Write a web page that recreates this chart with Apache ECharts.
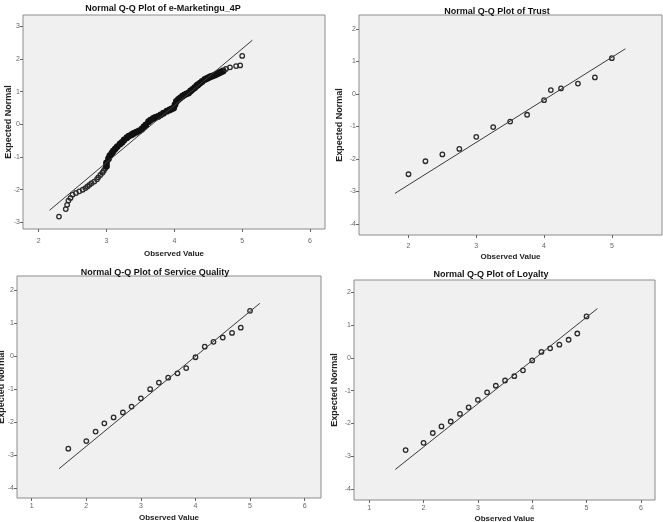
<!DOCTYPE html>
<html>
<head>
	<meta charset="utf-8">
	<title>Normal Q-Q Plots</title>
	<script src="https://cdn.jsdelivr.net/npm/echarts@6/dist/echarts.min.js"></script>
	<style>
		html, body { margin: 0; padding: 0; background: #fff; }
	</style>
</head>
<body>
	<div id="main" style="width: 663px; height: 522px"></div>
	<script type="text/javascript">
		// panel titles
		var titles = [
			'Normal Q-Q Plot of e-Marketingu_4P',
			'Normal Q-Q Plot of Trust',
			'Normal Q-Q Plot of Service Quality',
			'Normal Q-Q Plot of Loyalty'
		];

		// e-Marketingu_4P: observed value, expected normal
		var p1x = [2.30, 2.40, 2.42, 2.44, 2.47, 2.50, 2.55, 2.60, 2.65, 2.69, 2.72, 2.75, 2.78, 2.82, 2.86, 2.88, 2.91, 2.94, 2.96, 2.98,
			3.00, 3.00, 3.03, 3.05, 3.08, 3.10, 3.13, 3.16, 3.20, 3.23, 3.26, 3.30, 3.33, 3.37, 3.40, 3.44, 3.48, 3.52, 3.55, 3.58,
			3.62, 3.65, 3.69, 3.72, 3.76, 3.80, 3.84, 3.89, 3.93, 3.96, 3.99, 4.01, 4.03, 4.06, 4.09, 4.12, 4.15, 4.18, 4.21, 4.24,
			4.27, 4.30, 4.33, 4.35, 4.38, 4.41, 4.45, 4.48, 4.51, 4.54, 4.57, 4.60, 4.63, 4.66, 4.69, 4.72, 4.76, 4.82, 4.91, 4.97, 5.00];
		var p1y = [-2.82, -2.59, -2.46, -2.33, -2.25, -2.15, -2.10, -2.05, -2.00, -1.95, -1.90, -1.85, -1.80, -1.75, -1.68, -1.62, -1.55, -1.48, -1.42, -1.35,
			-1.28, -1.18, -1.05, -0.96, -0.88, -0.82, -0.75, -0.68, -0.60, -0.55, -0.48, -0.41, -0.36, -0.32, -0.28, -0.24, -0.20, -0.15, -0.08, -0.02,
			0.08, 0.13, 0.18, 0.21, 0.24, 0.29, 0.34, 0.40, 0.44, 0.47, 0.50, 0.60, 0.70, 0.76, 0.81, 0.86, 0.90, 0.93, 0.96, 1.02,
			1.07, 1.12, 1.18, 1.21, 1.26, 1.31, 1.37, 1.40, 1.43, 1.46, 1.48, 1.51, 1.54, 1.57, 1.60, 1.63, 1.69, 1.74, 1.78, 1.80, 2.09];
		var p1line = [[2.16, -2.63], [5.15, 2.57]];

		// Trust
		var p2x = [2.00, 2.25, 2.50, 2.75, 3.00, 3.25, 3.50, 3.75, 4.00, 4.10, 4.25, 4.50, 4.75, 5.00];
		var p2y = [-2.47, -2.07, -1.86, -1.69, -1.32, -1.02, -0.85, -0.64, -0.19, 0.12, 0.17, 0.32, 0.51, 1.10];
		var p2line = [[1.80, -3.06], [5.20, 1.39]];

		// Service Quality
		var p3x = [1.67, 2.00, 2.17, 2.33, 2.50, 2.67, 2.83, 3.00, 3.17, 3.33, 3.50, 3.67, 3.83, 4.00, 4.17, 4.33, 4.50, 4.67, 4.83, 5.00];
		var p3y = [-2.81, -2.58, -2.29, -2.04, -1.86, -1.71, -1.53, -1.28, -1.00, -0.80, -0.65, -0.52, -0.36, -0.03, 0.29, 0.44, 0.57, 0.71, 0.87, 1.38];
		var p3line = [[1.50, -3.42], [5.18, 1.61]];

		// Loyalty
		var p4x = [1.67, 2.00, 2.17, 2.33, 2.50, 2.67, 2.83, 3.00, 3.17, 3.33, 3.50, 3.67, 3.83, 4.00, 4.17, 4.33, 4.50, 4.67, 4.83, 5.00];
		var p4y = [-2.81, -2.59, -2.29, -2.09, -1.94, -1.71, -1.51, -1.28, -1.05, -0.85, -0.69, -0.56, -0.38, -0.08, 0.18, 0.29, 0.40, 0.55, 0.74, 1.26];
		var p4line = [[1.48, -3.40], [5.20, 1.50]];

		// tick labels
		var xTicks = [[2, 3, 4, 5, 6], [2, 3, 4, 5], [1, 2, 3, 4, 5, 6], [1, 2, 3, 4, 5, 6]];
		var yTicks = [[-3, -2, -1, 0, 1, 2, 3], [-4, -3, -2, -1, 0, 1, 2], [-4, -3, -2, -1, 0, 1, 2], [-4, -3, -2, -1, 0, 1, 2]];

		var xs = [p1x, p2x, p3x, p4x];
		var ys = [p1y, p2y, p3y, p4y];
		var lines = [p1line, p2line, p3line, p4line];

		// layout of the four panels
		var grids = [
			{left: 23, top: 15, width: 302, height: 214},
			{left: 359, top: 15, width: 303, height: 220},
			{left: 17, top: 276, width: 304, height: 222},
			{left: 354, top: 280, width: 301, height: 220}
		];
		var xRange = [[1.77, 6.22], [1.27, 5.74], [0.73, 6.30], [0.72, 6.26]];
		var yRange = [[-3.20, 3.34], [-4.34, 2.43], [-4.31, 2.44], [-4.33, 2.37]];
		var titlePos = [[163, 4], [497, 7], [155, 268], [491, 270]];
		var xLabelMargin = [9, 8, 5, 5];
		var xNameGap = [21, 18, 16, 15];
		var yNameGap = [10, 15, 11, 15];

		var font = '"Liberation Sans", Arial, sans-serif';
		var option = {
			backgroundColor: '#fff',
			animation: false,
			title: [],
			grid: [],
			xAxis: [],
			yAxis: [],
			series: []
		};

		for (var i = 0; i < 4; i++) {
			option.title.push({
				text: titles[i],
				left: titlePos[i][0],
				top: titlePos[i][1],
				textAlign: 'center',
				padding: 0,
				textStyle: {fontFamily: font, fontSize: 9, fontWeight: 'bold', color: '#111'}
			});
			option.grid.push({
				left: grids[i].left, top: grids[i].top, width: grids[i].width, height: grids[i].height,
				outerBoundsMode: 'none', containLabel: false,
				show: true, backgroundColor: '#f0f0f0', borderColor: '#8c8c8c', borderWidth: 1
			});
			option.xAxis.push({
				type: 'value', gridIndex: i,
				min: xRange[i][0], max: xRange[i][1],
				name: 'Observed Value', nameLocation: 'middle', nameGap: xNameGap[i], nameMoveOverlap: false,
				nameTextStyle: {fontFamily: font, fontSize: 8, fontWeight: 'bold', color: '#222'},
				axisLine: {show: false, onZero: false},
				splitLine: {show: false},
				axisTick: {show: true, length: 3, customValues: xTicks[i], lineStyle: {color: '#666'}},
				axisLabel: {customValues: xTicks[i], fontFamily: font, fontSize: 7, color: '#666', margin: xLabelMargin[i]}
			});
			option.yAxis.push({
				type: 'value', gridIndex: i,
				min: yRange[i][0], max: yRange[i][1],
				name: 'Expected Normal', nameLocation: 'middle', nameGap: yNameGap[i], nameMoveOverlap: false,
				nameTextStyle: {fontFamily: font, fontSize: 9, fontWeight: 'bold', color: '#222'},
				axisLine: {show: false, onZero: false},
				splitLine: {show: false},
				axisTick: {show: true, length: 3, customValues: yTicks[i], lineStyle: {color: '#666'}},
				axisLabel: {customValues: yTicks[i], fontFamily: font, fontSize: 7, color: '#666', margin: 3}
			});
			var pts = [];
			for (var k = 0; k < xs[i].length; k++) {
				var item = {value: [xs[i][k], ys[i][k]]};
				// the crowded middle of the big sample reads as a solid band
				if (i === 0 && xs[i][k] >= 3.0 && xs[i][k] <= 4.72) {
					item.itemStyle = {color: '#111', borderColor: '#111'};
					item.symbolSize = 5.5;
				}
				pts.push(item);
			}
			option.series.push({
				type: 'line', xAxisIndex: i, yAxisIndex: i,
				data: lines[i], symbol: 'none', silent: true,
				lineStyle: {color: '#3a3a3a', width: 1}
			});
			option.series.push({
				type: 'scatter', xAxisIndex: i, yAxisIndex: i,
				data: pts, symbol: 'circle', symbolSize: 4.5,
				itemStyle: {color: 'rgba(0,0,0,0)', borderColor: '#2a2a2a', borderWidth: 1.3, opacity: 1}
			});
		}

		var myChart = echarts.init(document.getElementById('main'));
		myChart.setOption(option);
	</script>
</body>
</html>
